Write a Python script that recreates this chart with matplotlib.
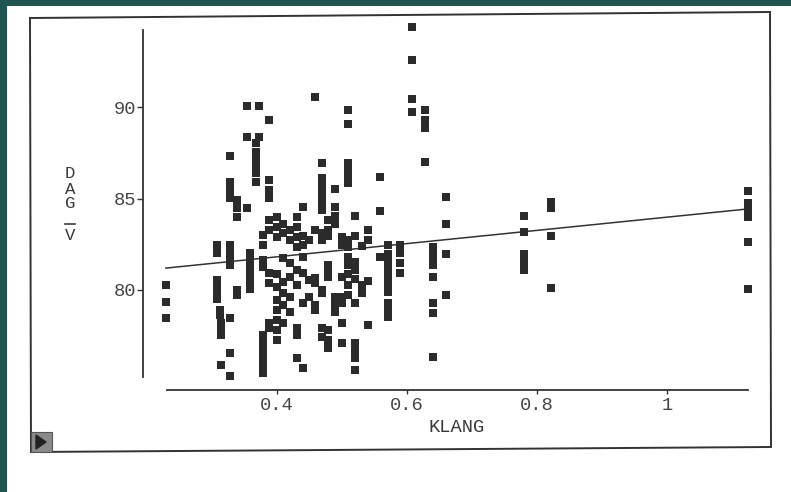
import numpy as np
import matplotlib
matplotlib.use("Agg")
import matplotlib.pyplot as plt
from matplotlib.patches import Polygon, Rectangle
from matplotlib.lines import Line2D

# KLANG columns and the DAG V values
klang_cols = [0.229, 0.308, 0.312, 0.314, 0.328, 0.338, 0.354, 0.358, 0.368, 0.372,
              0.378, 0.388, 0.400, 0.409, 0.420, 0.431, 0.440, 0.449, 0.458, 0.469,
              0.478, 0.489, 0.500, 0.509, 0.520, 0.531, 0.540, 0.558, 0.571, 0.589,
              0.608, 0.628, 0.640, 0.660, 0.780, 0.822, 1.125]
dagv_cols = [
    [80.27, 79.34, 78.47],
    [82.46, 82.02, 80.55, 80.16, 79.84, 79.51],
    [78.91, 78.63],
    [78.20, 77.92, 77.54, 75.90],
    [87.32, 85.90, 85.46, 85.03, 82.46, 82.19, 81.80, 81.37, 78.47, 76.56, 75.30],
    [84.92, 84.48, 83.99, 80.00, 79.73],
    [90.05, 88.36, 84.48],
    [82.02, 81.64, 81.26, 80.87, 80.44, 80.05],
    [88.03, 87.54, 87.16, 86.78, 86.39, 85.90],
    [90.05, 88.36],
    [81.64, 81.26, 77.54, 77.10, 76.72, 76.34, 75.90, 75.46, 83.01, 82.46],
    [89.29, 86.01, 85.46, 85.03, 83.83, 83.28, 80.93, 80.38, 78.20, 77.92],
    [83.99, 83.44, 82.90, 80.87, 80.16, 79.45, 78.91, 78.36, 77.81, 77.27],
    [83.61, 83.11, 81.75, 80.44, 79.84, 79.18, 78.20],
    [83.28, 82.73, 81.48, 80.71, 79.62, 78.80],
    [83.99, 83.44, 82.90, 82.35, 81.09, 80.27, 77.92, 77.54, 76.28],
    [84.54, 82.95, 82.46, 81.80, 80.93, 79.29, 75.74],
    [82.73, 80.55, 79.62],
    [90.55, 83.28, 80.66, 80.38, 79.18, 78.91],
    [86.94, 86.12, 85.68, 85.25, 84.81, 84.37, 83.11, 82.73, 80.00, 79.84, 77.92, 77.43],
    [83.83, 83.28, 82.95, 81.37, 81.09, 80.71, 77.81, 77.27, 76.83],
    [85.52, 84.54, 84.04, 83.61, 79.62, 79.18, 78.80],
    [82.90, 82.46, 80.71, 79.62, 79.29, 78.20, 77.10],
    [89.84, 89.07, 86.94, 86.56, 86.17, 85.85, 82.73, 82.35, 81.80, 81.37, 80.87, 80.27, 79.73],
    [84.04, 82.95, 81.53, 81.09, 80.60, 79.29, 77.10, 76.72, 76.28, 75.63],
    [82.40, 80.27, 79.84],
    [83.28, 82.73, 80.49, 78.09],
    [86.17, 84.32, 81.80],
    [82.46, 81.97, 81.64, 81.20, 80.76, 80.33, 79.89, 79.29, 78.85, 78.52],
    [82.46, 82.02, 81.48, 80.93],
    [94.37, 92.57, 90.44, 89.73],
    [89.84, 89.29, 88.85, 86.99],
    [82.35, 81.97, 81.64, 81.37, 80.71, 79.29, 78.74, 76.34],
    [85.08, 83.61, 81.97, 79.73],
    [84.04, 83.17, 81.97, 81.53, 81.09],
    [84.81, 84.48, 82.95, 80.11],
    [85.41, 84.75, 84.37, 83.99, 82.62, 80.05],
]

# fitted line
fit_intercept = 80.37
fit_slope = 3.61

xticks = [0.4, 0.6, 0.8, 1.0]
xtick_labels = ["0.4", "0.6", "0.8", "1"]
yticks = [80, 85, 90]
ytick_labels = ["80", "85", "90"]

klang = np.concatenate([[k] * len(v) for k, v in zip(klang_cols, dagv_cols)])
dagv = np.concatenate(dagv_cols)

W, H = 791, 492
fig = plt.figure(figsize=(W / 100, H / 100), dpi=100)
fig.patch.set_facecolor("white")

def fp(x, y):
    return (x / W, 1 - y / H)

ink = "#333333"
teal = "#1f5450"

# teal slide border, page frame and the little arrow button
fig.add_artist(Rectangle(fp(0, 6), 1, 6 / H, transform=fig.transFigure, color=teal, lw=0))
fig.add_artist(Rectangle(fp(0, H), 7 / W, 1, transform=fig.transFigure, color=teal, lw=0))
frame = Polygon([fp(30, 18), fp(770, 12), fp(771, 447), fp(31, 452)], closed=True,
                fill=False, edgecolor=ink, lw=1.4, transform=fig.transFigure)
fig.add_artist(frame)
fig.add_artist(Rectangle(fp(31, 452), 21 / W, 20 / H, transform=fig.transFigure,
                         facecolor="#8a8a8a", edgecolor="#555555", lw=0.8))
fig.add_artist(Polygon([fp(36, 435), fp(36, 449), fp(46, 442)], closed=True,
                       transform=fig.transFigure, color="#222222"))

# axes placed in pixel space: x 143..760, y 25..390
x0, x1 = 143, 760
ytop, ybot = 25, 390
ax = fig.add_axes([x0 / W, 1 - ybot / H, (x1 - x0) / W, (ybot - ytop) / H])
ax.set_facecolor("none")

xpp = 650.0   # px per KLANG unit
ypp = 18.3    # px per DAG V unit
ax.set_xlim(0.4 - (277 - x0) / xpp, 0.4 + (x1 - 277) / xpp)
ax.set_ylim(80 - (ybot - 290) / ypp, 80 + (290 - ytop) / ypp)

ax.scatter(klang, dagv, marker="s", s=31, color="#2b2b2b", linewidths=0, clip_on=False, zorder=3)

xs = np.array([klang.min(), klang.max()])
ax.plot(xs, fit_intercept + fit_slope * xs, color=ink, lw=1.1, zorder=2)

for s in ["top", "right"]:
    ax.spines[s].set_visible(False)
ax.spines["left"].set_bounds(80 - (377 - 290) / ypp, 80 + (290 - 30) / ypp)
ax.spines["bottom"].set_bounds(0.4 - (277 - 167) / xpp, 0.4 + (748 - 277) / xpp)
for s in ["left", "bottom"]:
    ax.spines[s].set_color(ink)
    ax.spines[s].set_linewidth(1.3)

mono = "Liberation Mono"
ax.set_xticks(xticks)
ax.set_xticklabels(xtick_labels, family=mono, fontsize=13.5, color="#444444")
ax.set_yticks(yticks)
ax.set_yticklabels(ytick_labels, family=mono, fontsize=13.5, color="#444444")
ax.tick_params(axis="x", length=3, width=1, color=ink, pad=2)
ax.tick_params(axis="y", length=4, width=1, color=ink, pad=1)

fig.text(*fp(457, 428), "KLANG", family=mono, fontsize=13.5, color="#3a3a3a",
         ha="center", va="center")
for letter, yy in zip(["D", "A", "G", "V"], [174, 189, 204, 235]):
    fig.text(*fp(70, yy), letter, family=mono, fontsize=12.5, color="#3a3a3a",
             ha="center", va="center")
fig.add_artist(Line2D([65 / W, 75 / W], [1 - 224 / H, 1 - 224 / H], transform=fig.transFigure,
                      color="#3a3a3a", lw=1.2))

fig.savefig("out.png", dpi=100)
